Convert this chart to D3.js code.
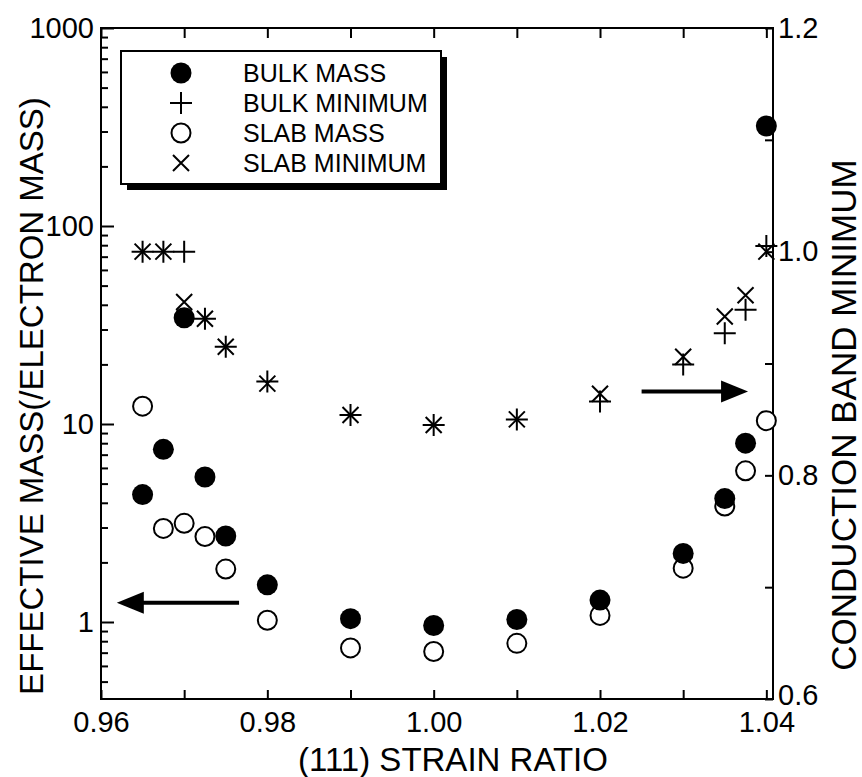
<!DOCTYPE html>
<html>
<head>
<meta charset="utf-8">
<script src="https://cdn.jsdelivr.net/npm/d3@7"></script>
<style>
  body { margin: 0; background: #fff; }
  svg text { font-family: "Liberation Sans", Arial, Helvetica, sans-serif; fill: #000; }
</style>
</head>
<body>
<svg id="chart"></svg>
<script>
// strain ratio for every point (same x for all four series)
const strain    = [0.965, 0.9675, 0.97, 0.9725, 0.975, 0.98, 0.99, 1.00, 1.01, 1.02, 1.03, 1.035, 1.0375, 1.04];
// effective mass, left log axis
const bulkMass  = [4.4, 7.45, 34.4, 5.4, 2.72, 1.54, 1.04, 0.96, 1.03, 1.29, 2.22, 4.2, 8.0, 320];
const slabMass  = [12.3, 2.97, 3.15, 2.7, 1.85, 1.02, 0.74, 0.71, 0.78, 1.08, 1.87, 3.85, 5.8, 10.4];
// conduction band minimum, right linear axis
const bulkMin   = [1.0, 1.0, 1.0, 0.94, 0.915, 0.884, 0.854, 0.845, 0.85, 0.866, 0.899, 0.927, 0.948, 1.005];
const slabMin   = [1.0, 1.0, 0.955, 0.94, 0.915, 0.882, 0.854, 0.845, 0.85, 0.873, 0.906, 0.942, 0.961, 1.0];

const legendNames = ['BULK MASS', 'BULK MINIMUM', 'SLAB MASS', 'SLAB MINIMUM'];
const legendMarks = ['dot', 'plus', 'ring', 'times'];

const xTicks   = [0.96, 0.97, 0.98, 0.99, 1.00, 1.01, 1.02, 1.03, 1.04];
const xLabels  = [0.96, 0.98, 1.00, 1.02, 1.04];
const massMajor = [1, 10, 100, 1000];
const massMinor = [0.5, 0.6, 0.7, 0.8, 0.9].concat(
  [1, 10, 100].flatMap(d => [2, 3, 4, 5, 6, 7, 8, 9].map(k => k * d)));
const minTicks  = [0.6, 0.7, 0.8, 0.9, 1.0, 1.1, 1.2];
const minLabels = [0.6, 0.8, 1.0, 1.2];

// arrows pointing to the axis each group belongs to
const leftArrow  = [[0.9766, 1.25], [0.9619, 1.25]];   // mass scale
const rightArrow = [[1.025, 0.875], [1.0378, 0.875]];  // minimum scale

class Chart {
  constructor(_config) {
    this.config = {
      parentElement: _config.parentElement,
      containerWidth: _config.containerWidth || 862,
      containerHeight: _config.containerHeight || 777,
      margin: _config.margin || {top: 28, bottom: 78, right: 89, left: 101},
    };
    this.initVis();
  }

  initVis() {
    let vis = this;
    vis.width = vis.config.containerWidth - vis.config.margin.left - vis.config.margin.right;
    vis.height = vis.config.containerHeight - vis.config.margin.top - vis.config.margin.bottom;

    vis.xScale = d3.scaleLinear().domain([0.96, 1.0408]).range([0, vis.width]);
    vis.yMass = d3.scaleLog().domain([1, 1000]).range([594, 0]);
    vis.yMin = d3.scaleLinear().domain([0.6, 1.2]).range([vis.height, 0]);

    vis.svg = d3.select(vis.config.parentElement)
        .attr('width', vis.config.containerWidth)
        .attr('height', vis.config.containerHeight);

    vis.chart = vis.svg.append('g')
        .attr('transform', `translate(${vis.config.margin.left},${vis.config.margin.top})`);

    vis.renderAxes();
    vis.renderVis();
    vis.renderLegend();
  }

  renderAxes() {
    let vis = this;
    const fmt2 = d3.format('.2f');

    let bottom = vis.chart.append('g')
        .attr('transform', `translate(0,${vis.height})`)
        .call(d3.axisBottom(vis.xScale).tickValues(xTicks).tickSize(-9).tickSizeOuter(0).tickPadding(12)
          .tickFormat(d => xLabels.some(v => Math.abs(v - d) < 1e-9) ? fmt2(d) : ''));
    let top = vis.chart.append('g')
        .call(d3.axisTop(vis.xScale).tickValues(xTicks).tickSize(-10).tickSizeOuter(0).tickFormat(''));

    let leftMajor = vis.chart.append('g')
        .call(d3.axisLeft(vis.yMass).tickValues(massMajor).tickSize(-13).tickSizeOuter(0).tickPadding(7)
          .tickFormat(d3.format('d')));
    let leftMinor = vis.chart.append('g')
        .call(d3.axisLeft(vis.yMass).tickValues(massMinor).tickSize(-7).tickSizeOuter(0).tickFormat(''));

    let right = vis.chart.append('g')
        .attr('transform', `translate(${vis.width},0)`)
        .call(d3.axisRight(vis.yMin).tickValues(minTicks).tickSize(-8).tickSizeOuter(0).tickPadding(5)
          .tickFormat(d => minLabels.some(v => Math.abs(v - d) < 1e-9) ? d3.format('.1f')(d) : ''));

    [bottom, top, leftMajor, leftMinor, right].forEach(g => {
      g.select('.domain').remove();
      g.selectAll('line').attr('stroke', '#000').attr('stroke-width', 2);
      g.selectAll('text').attr('font-size', 29).attr('fill', '#000');
    });
    // bottom label of the right axis sits just above the 1.04 label
    right.selectAll('.tick text').filter(d => d === 0.6).attr('dy', '0.2em');

    // frame
    vis.chart.append('rect')
        .attr('x', 0).attr('y', 0)
        .attr('width', vis.width).attr('height', vis.height)
        .attr('fill', 'none').attr('stroke', '#000').attr('stroke-width', 2);

    vis.svg.append('text')
        .attr('transform', 'translate(31,396) rotate(-90)')
        .attr('text-anchor', 'middle').attr('dominant-baseline', 'central')
        .attr('font-size', 33)
        .text('EFFECTIVE MASS(/ELECTRON MASS)');

    vis.svg.append('text')
        .attr('transform', 'translate(843,415) rotate(-90)')
        .attr('text-anchor', 'middle').attr('dominant-baseline', 'central')
        .attr('font-size', 35)
        .text('CONDUCTION BAND MINIMUM');

    vis.svg.append('text')
        .attr('x', 453).attr('y', 771)
        .attr('text-anchor', 'middle')
        .attr('font-size', 33)
        .text('(111) STRAIN RATIO');
  }

  marker(sel, kind) {
    if (kind === 'dot') {
      sel.append('circle').attr('r', 10.5).attr('fill', '#000');
    } else if (kind === 'ring') {
      sel.append('circle').attr('r', 9.5).attr('fill', '#fff').attr('stroke', '#000').attr('stroke-width', 2);
    } else if (kind === 'plus') {
      sel.append('path').attr('d', 'M-11,0H11M0,-11V11')
          .attr('stroke', '#000').attr('stroke-width', 2).attr('fill', 'none');
    } else {
      sel.append('path').attr('d', 'M-8,-8L8,8M-8,8L8,-8')
          .attr('stroke', '#000').attr('stroke-width', 2).attr('fill', 'none');
    }
  }

  renderVis() {
    let vis = this;
    const series = [
      {vals: slabMass, y: vis.yMass, kind: 'ring'},
      {vals: bulkMass, y: vis.yMass, kind: 'dot'},
      {vals: bulkMin, y: vis.yMin, kind: 'plus'},
      {vals: slabMin, y: vis.yMin, kind: 'times'},
    ];

    series.forEach(s => {
      vis.chart.append('g').selectAll('g')
          .data(strain.map((x, i) => [x, s.vals[i]]))
          .join('g')
          .attr('transform', d => `translate(${vis.xScale(d[0])},${s.y(d[1])})`)
          .each(function() { vis.marker(d3.select(this), s.kind); });
    });

    const arrow = (pts, y) => {
      const x0 = vis.xScale(pts[0][0]), x1 = vis.xScale(pts[1][0]), yy = y(pts[0][1]);
      const dir = Math.sign(x1 - x0);
      vis.chart.append('line')
          .attr('x1', x0).attr('x2', x1 - dir * 20).attr('y1', yy).attr('y2', yy)
          .attr('stroke', '#000').attr('stroke-width', 4);
      vis.chart.append('path')
          .attr('d', `M${x1},${yy}L${x1 - dir * 27},${yy - 11}L${x1 - dir * 27},${yy + 11}Z`)
          .attr('fill', '#000');
    };
    arrow(leftArrow, vis.yMass);
    arrow(rightArrow, vis.yMin);
  }

  renderLegend() {
    let vis = this;
    const lx = 121, ly = 51, lw = 320, lh = 133;
    vis.svg.append('rect')
        .attr('x', lx + 6).attr('y', ly + 6).attr('width', lw).attr('height', lh)
        .attr('fill', '#000');
    vis.svg.append('rect')
        .attr('x', lx).attr('y', ly).attr('width', lw).attr('height', lh)
        .attr('fill', '#fff').attr('stroke', '#000').attr('stroke-width', 2);

    let rows = vis.svg.append('g').selectAll('g')
        .data(legendNames)
        .join('g')
        .attr('transform', (d, i) => `translate(0,${82 + i * 30})`);

    rows.each(function(d, i) {
      let g = d3.select(this).append('g').attr('transform', 'translate(181,-9)');
      vis.marker(g, legendMarks[i]);
    });
    rows.append('text')
        .attr('x', 243).attr('y', 0)
        .attr('font-size', 25)
        .text(d => d);
  }
}

new Chart({parentElement: '#chart'});
</script>
</body>
</html>
